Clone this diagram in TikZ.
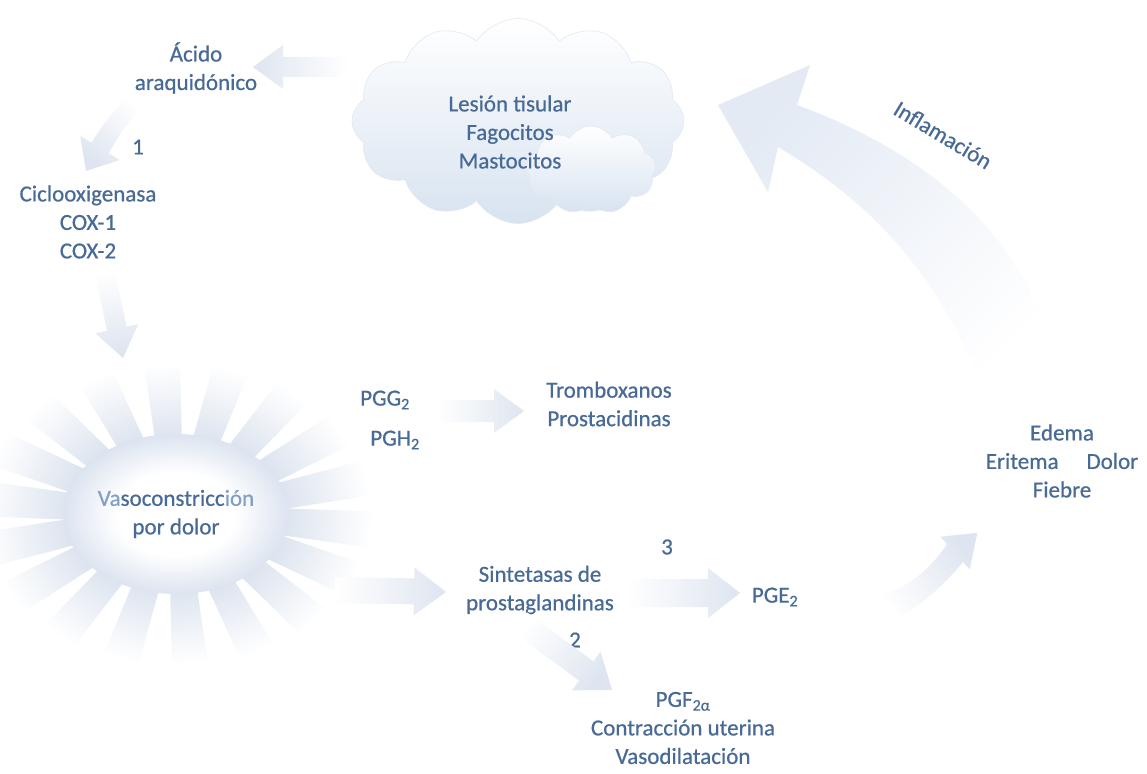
\documentclass[tikz,border=0pt]{standalone}
\usepackage{fontspec}
\setmainfont{Carlito}[FakeBold=0.6]
\usetikzlibrary{shapes.geometric,shapes.symbols,calc}

\definecolor{txt}{RGB}{72,106,150}
\definecolor{txtlight}{RGB}{128,160,198}
\definecolor{arrowfill}{RGB}{222,229,240}
\definecolor{bigfill}{RGB}{227,234,244}
\definecolor{raycol}{RGB}{218,226,238}
\definecolor{sunrim}{RGB}{220,228,240}
\definecolor{cloudlow}{RGB}{216,227,240}
\definecolor{cloudedge}{RGB}{226,233,242}

\pgfdeclareradialshading{sunglow}{\pgfpoint{0bp}{0bp}}{%
  color(0bp)=(white); color(13bp)=(white); color(25bp)=(sunrim); color(50bp)=(sunrim)}

\tikzset{
  lbl/.style={text=txt, font=\fontsize{23}{28.5}\selectfont, align=center, inner sep=1pt},
  puff/.style={cloud, top color=white, bottom color=cloudlow, draw=cloudedge, line width=0.6pt},
}

% straight fat arrow: start, tip, shaft half width, head half width, head length, shading angle
\newcommand{\fatarrow}[6]{%
  \coordinate (fab) at ($(#2)!#5pt!(#1)$);
  \shade[top color=arrowfill, bottom color=white, shading angle=#6]
    ($(#1)!#3pt!90:(#2)$) -- ($(fab)!#3pt!90:(#2)$) -- ($(fab)!#4pt!90:(#2)$) -- (#2)
    -- ($(fab)!#4pt!-90:(#2)$) -- ($(fab)!#3pt!-90:(#2)$) -- ($(#1)!#3pt!-90:(#2)$) -- cycle;
}

\begin{document}
\begin{tikzpicture}[x=1pt,y=-1pt]
\useasboundingbox[fill=white] (0,0) rectangle (1147,773);

% ---- sun: rays and central ellipse
\coordinate (sunc) at (176,514);
\foreach \a in {6,26,...,366}{
  \pgfmathsetmacro\sh{-\a-90}
  \shade[top color=white, bottom color=raycol, shading angle=\sh]
    ($(sunc)+(\a:100 and 68)+(\a+90:13)$) -- ($(sunc)+(\a:198 and 150)+(\a+90:18)$)
    -- ($(sunc)+(\a:198 and 150)+(\a-90:18)$) -- ($(sunc)+(\a:100 and 68)+(\a-90:13)$) -- cycle;
}
\node[lbl, ellipse, minimum width=226pt, minimum height=160pt, shade, shading=sunglow] (sun) at (sunc)
  {{\color{txtlight}Va}soconstricc{\color{txtlight}ión}\\por dolor};

% ---- cloud
\node[puff, cloud puffs=12, cloud puff arc=115, aspect=1.65, minimum width=332pt, minimum height=205pt] (cloud) at (518,121) {};
\node[puff, cloud puffs=9, cloud puff arc=120, aspect=1.5, minimum width=130pt, minimum height=88pt] (cloudb) at (591,170) {};
\node[lbl] (lesion) at (510,132) {Lesión tisular\\Fagocitos\\Mastocitos};

% ---- texts
\node[lbl] (acido) at (196,68) {Ácido\\araquidónico};
\node[lbl] (one) at (138,147) {1};
\node[lbl] (cox) at (88,222) {Ciclooxigenasa\\COX-1\\COX-2};
\node[lbl] (pgg) at (385,400) {PGG\textsubscript{2}};
\node[lbl] (pgh) at (395,440) {PGH\textsubscript{2}};
\node[lbl] (trombo) at (609,404) {Tromboxanos\\Prostacidinas};
\node[lbl] (sint) at (540,590) {Sintetasas de\\prostaglandinas};
\node[lbl] (three) at (667,547) {3};
\node[lbl] (pge) at (775,597) {PGE\textsubscript{2}};
\node[lbl] (two) at (575,640) {2};
\node[lbl] (pgf) at (683,728) {PGF\textsubscript{2α}\\Contracción uterina\\Vasodilatación};
\node[lbl] (signos) at (1062,461) {Edema\\Eritema\hspace{28pt}Dolor\\Fiebre};
\node[lbl, rotate=-31] (infl) at (943,135) {Inflamación};

% ---- straight fat arrows
\coordinate (a1s) at (348,67);  \coordinate (a1e) at (253,67);
\coordinate (a3s) at (104,268); \coordinate (a3e) at (123,358);
\coordinate (a4s) at (437,411); \coordinate (a4e) at (524,411);
\coordinate (a5s) at (335,590); \coordinate (a5e) at (446,592);
\coordinate (a6s) at (625,593); \coordinate (a6e) at (740,593);
\coordinate (a7s) at (520,622); \coordinate (a7e) at (612,690);
\fatarrow{a1s}{a1e}{10}{22}{30}{90}
\fatarrow{a3s}{a3e}{10}{22}{30}{-168}
\fatarrow{a4s}{a4e}{11}{22}{30}{-90}
\fatarrow{a5s}{a5e}{13}{24}{32}{-90}
\fatarrow{a6s}{a6e}{14}{25}{32}{-90}
\fatarrow{a7s}{a7e}{12}{24}{32}{-126.5}

% ---- curved arrow: acid -> cyclooxygenase
\shade[top color=arrowfill, bottom color=white, shading angle=142.7]
  (135.2,92.4) .. controls (118.2,103) and (101.9,125.7) .. (91.5,142.8)
  -- (80.3,136) -- (86,171) -- (119.7,160) -- (108.6,153.2)
  .. controls (119,136.1) and (127.8,118.3) .. (144.8,107.7) -- cycle;

% ---- curved arrow: PGE2 -> signs
\shade[top color=arrowfill, bottom color=white, shading angle=-51.6]
  (876,596.6) .. controls (905,590) and (930,570) .. (947,544.1)
  -- (940.3,536.7) -- (977.3,532.9) -- (969.7,569.3) -- (963,561.9)
  .. controls (940,590) and (910,615) .. (884,623.4) -- cycle;

% ---- big inflammation arrow
\shade[top color=bigfill, middle color=bigfill!85!white, bottom color=white, shading angle=45.7]
  (718,105) -- (810,65) -- (797,105)
  .. controls (938,157) and (1041,247) .. (1062,395)
  -- (987,397)
  .. controls (944,285) and (881,208) .. (778,147)
  -- (768,192) -- cycle;

\end{tikzpicture}
\end{document}
